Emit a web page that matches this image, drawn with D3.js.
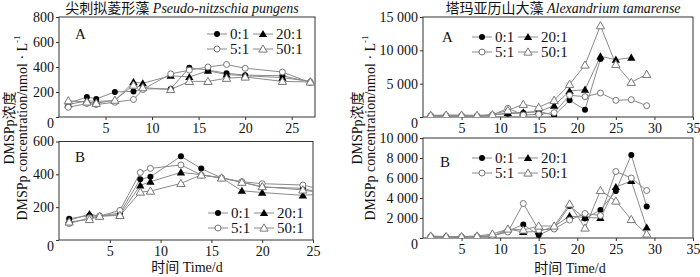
<!DOCTYPE html>
<html><head><meta charset="utf-8">
<script src="https://cdn.jsdelivr.net/npm/d3@7"></script>
<style>
body{margin:0;background:#fff;}
svg text{font-family:"Liberation Serif","Noto Sans CJK SC",serif;fill:#111;}
</style></head>
<body><svg id="c" width="700" height="277"></svg>
<script>
// ---------- data ----------
const seriesNames = ["0:1","20:1","5:1","50:1"];

// Pseudo-nitzschia pungens, A
const daysLA = [1,3,4,6,8,9,12,14,16,18,20,24,27];
const la01  = [110,160,145,200,205,225,225,395,375,350,335,330,280];
const la201 = [100,130,125,130,280,270,330,320,370,340,330,315,285];
const la51  = [78,108,100,118,140,220,345,375,400,420,390,360,275];
const la501 = [130,120,110,135,255,235,220,285,285,310,320,285,280];
// Pseudo-nitzschia pungens, B
const daysLB = [1,3,4,6,8,9,12,14,16,18,20,24,27];
const lb01  = [130,150,145,165,370,385,510,435,378,352,322,315,265];
const lb201 = [120,158,145,155,333,355,412,398,378,300,289,272,285];
const lb51  = [100,135,146,180,411,436,457,396,378,355,343,335,290];
const lb501 = [110,125,145,150,292,298,345,396,378,352,325,305,275];
// Alexandrium tamarense, A
const daysRA = [1,3,5,7,9,11,13,15,17,19,21,23,25,27,29];
const ra01  = [150,150,150,120,300,500,600,850,250,2500,1100,8700];
const ra201 = [150,150,150,120,300,600,700,800,1700,3900,4100,9100,8600,8900];
const ra51  = [200,200,200,150,300,1300,300,400,650,3250,3050,3600,2500,2600,1700];
const ra501 = [250,300,300,250,350,1000,1900,1450,2500,4900,7800,13700,7900,5200,6400];
// Alexandrium tamarense, B
const daysRB = [1,3,5,7,9,11,13,15,17,19,21,23,25,27,29];
const rb01  = [150,100,100,150,200,700,1350,300,1000,3200,1950,2800,4700,8300,3150];
const rb201 = [100,100,100,150,150,900,600,650,1150,2200,2050,2000,5100,5700,1050];
const rb51  = [150,100,100,150,250,600,3450,800,900,1800,2450,2250,6650,6000,4750];
const rb501 = [200,150,150,200,400,900,800,1200,1200,3400,1000,4750,3700,1850,400];

const ticksLAy = [0,200,400,600,800];
const ticksLBy = [0,200,400,600];
const ticksRAy = [0,5000,10000,15000];
const ticksRBy = [0,2000,4000,6000,8000,10000];
const ticksLx = [5,10,15,20,25];
const ticksRx = [5,10,15,20,25,30,35];

const titleL = ["尖刺拟菱形藻 ", "Pseudo-nitzschia pungens"];
const titleR = ["塔玛亚历山大藻 ", "Alexandrium tamarense"];
const xTitle = "时间 Time/d";
const yLine1 = "DMSPp浓度";
const yLine2 = "DMSPp concentration/nmol · L";

// ---------- drawing ----------
const FONT = '"Liberation Serif","Noto Sans CJK SC",serif';
const svg = d3.select("#c");
const LINE = "#8a8a8a", AX = "#333";
const fmtSpace = v => d3.format(",")(v).replace(/,/g, " ");

function marker(g, type, x, y) {
  if (type === 0) g.append("circle").attr("cx", x).attr("cy", y).attr("r", 3).attr("fill", "#000");
  else if (type === 2) g.append("circle").attr("cx", x).attr("cy", y).attr("r", 3).attr("fill", "#fff").attr("stroke", "#777").attr("stroke-width", 1);
  else {
    const p = d3.symbol().type(d3.symbolTriangle).size(30)();
    const t = g.append("path").attr("d", p).attr("transform", `translate(${x},${y + 0.7})`);
    if (type === 1) t.attr("fill", "#000");
    else t.attr("fill", "#fff").attr("stroke", "#777").attr("stroke-width", 1);
  }
}

let clipId = 0;
function panel(o) {
  const x = d3.scaleLinear().domain(o.xDomain).range([o.x0, o.x1]);
  const y = d3.scaleLinear().domain(o.yDomain).range([o.y1, o.y0]);
  const g = svg.append("g");
  const id = "clip" + (clipId++);
  svg.append("clipPath").attr("id", id).append("rect")
    .attr("x", o.x0).attr("y", o.y0 - 10).attr("width", o.x1 - o.x0).attr("height", o.y1 - o.y0 + 10);

  const ay = d3.axisLeft(y).tickValues(o.yTicks).tickSize(3).tickPadding(2).tickFormat(o.yFmt);
  const gy = g.append("g").attr("transform", `translate(${o.x0},0)`).call(ay);
  const ax = d3.axisBottom(x).tickValues(o.xTicks).tickSize(3).tickPadding(3).tickFormat(d3.format("d"));
  const gx = g.append("g").attr("transform", `translate(0,${o.y1})`).call(ax);
  [gy, gx].forEach(a => {
    a.attr("font-family", FONT).attr("font-size", 14);
    a.select(".domain").remove();
    a.selectAll("line").attr("stroke", AX);
    a.selectAll("text").style("font-size", "14px").style("font-family", FONT).attr("fill", "#111");
  });
  gy.selectAll(".tick").filter(d => d === 0).select("text").attr("dy", "0.75em");
  g.append("rect").attr("x", o.x0).attr("y", o.y0).attr("width", o.x1 - o.x0).attr("height", o.y1 - o.y0)
    .attr("fill", "none").attr("stroke", AX).attr("stroke-width", 1);

  const sg = g.append("g").attr("clip-path", `url(#${id})`);
  const line = d3.line().x(d => x(d[0])).y(d => y(d[1]));
  o.series.forEach((vals) => {
    const pts = vals.map((v, k) => [o.days[k], v]);
    sg.append("path").attr("d", line(pts)).attr("fill", "none").attr("stroke", LINE).attr("stroke-width", 1);
  });
  o.series.forEach((vals, i) => {
    vals.forEach((v, k) => marker(sg, i, x(o.days[k]), y(v)));
  });

  g.append("text").attr("x", o.letter[0]).attr("y", o.letter[1]).attr("dominant-baseline", "central")
    .style("font-size", "15px").text(o.letter[2]);

  const lg = g.append("g");
  const cols = [o.leg[0], o.leg[0] + 46];
  const rows = [o.leg[1], o.leg[1] + o.leg[2]];
  const order = [[0, 1], [2, 3]];
  order.forEach((row, r) => row.forEach((si, c) => {
    const lx = cols[c], ly = rows[r];
    lg.append("line").attr("x1", lx).attr("x2", lx + 20).attr("y1", ly).attr("y2", ly).attr("stroke", LINE).attr("stroke-width", 1);
    marker(lg, si, lx + 10, ly);
    lg.append("text").attr("x", lx + 23).attr("y", ly).attr("dominant-baseline", "central")
      .style("font-size", "15px").text(seriesNames[si]);
  }));
}

panel({x0: 59, x1: 315, y0: 17, y1: 117, xDomain: [0, 27.5], yDomain: [0, 800],
  xTicks: ticksLx, yTicks: ticksLAy, yFmt: d3.format("d"), days: daysLA,
  series: [la01, la201, la51, la501], letter: [75, 34, "A"], leg: [207, 34, 15]});
panel({x0: 59, x1: 313, y0: 141.5, y1: 240, xDomain: [0, 25], yDomain: [0, 600],
  xTicks: ticksLx, yTicks: ticksLBy, yFmt: d3.format("d"), days: daysLB,
  series: [lb01, lb201, lb51, lb501], letter: [75, 157, "B"], leg: [208, 213, 15]});
panel({x0: 423, x1: 693, y0: 17, y1: 117, xDomain: [0, 35], yDomain: [0, 15000],
  xTicks: ticksRx, yTicks: ticksRAy, yFmt: fmtSpace, days: daysRA,
  series: [ra01, ra201, ra51, ra501], letter: [442, 37, "A"], leg: [472, 37, 15]});
panel({x0: 423, x1: 693, y0: 138, y1: 238, xDomain: [0, 35], yDomain: [0, 10000],
  xTicks: ticksRx, yTicks: ticksRBy, yFmt: fmtSpace, days: daysRB,
  series: [rb01, rb201, rb51, rb501], letter: [440, 162, "B"], leg: [472, 158, 15]});

function title(cx, parts) {
  const t = svg.append("text").attr("x", cx).attr("y", 13).attr("text-anchor", "middle").style("font-size", "14px");
  t.append("tspan").text(parts[0]);
  t.append("tspan").style("font-style", "italic").text(parts[1]);
}
title(182, titleL);
title(563, titleR);

svg.append("text").attr("x", 187).attr("y", 272).attr("text-anchor", "middle").style("font-size", "14px").text(xTitle);
svg.append("text").attr("x", 570).attr("y", 273).attr("text-anchor", "middle").style("font-size", "14px").text(xTitle);

function ylab(x1, x2, cy) {
  svg.append("text").attr("transform", `translate(${x1},${cy}) rotate(-90)`).attr("text-anchor", "middle")
    .attr("dominant-baseline", "central").style("font-size", "14px").text(yLine1);
  const t = svg.append("text").attr("transform", `translate(${x2},${cy}) rotate(-90)`).attr("text-anchor", "middle")
    .attr("dominant-baseline", "central").style("font-size", "14px");
  t.append("tspan").text(yLine2);
  t.append("tspan").attr("dy", -5).style("font-size", "9px").text("-1");
}
ylab(9, 22, 128);
ylab(357, 370, 128);
</script></body></html>
